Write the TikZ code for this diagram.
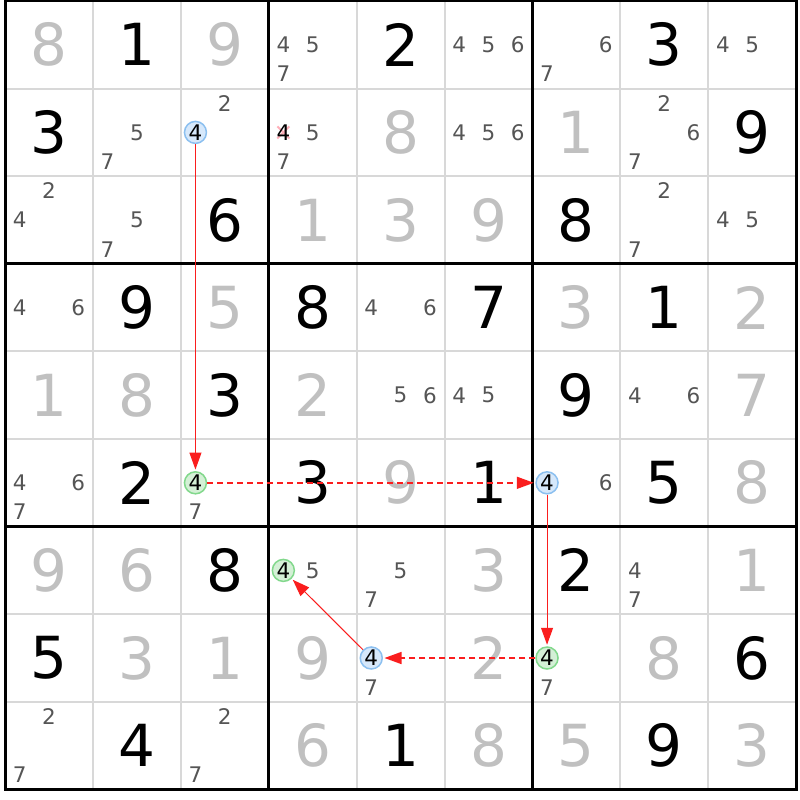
\documentclass[tikz,border=0pt]{standalone}
\usepackage{fontspec}
\setmainfont{DejaVu Sans}
\usetikzlibrary{arrows.meta}
\definecolor{givengray}{RGB}{192,192,192}
\definecolor{candgray}{RGB}{85,85,85}
\definecolor{thingrid}{RGB}{216,216,216}
\definecolor{hlblue}{RGB}{214,232,251}
\definecolor{hlbluedraw}{RGB}{140,192,240}
\definecolor{hlgreen}{RGB}{212,240,214}
\definecolor{hlgreendraw}{RGB}{130,216,140}
\definecolor{linkred}{RGB}{250,30,30}
\definecolor{crosspink}{RGB}{255,175,185}
\newcommand{\cellG}[3]{\node[given] (g#1#2) at ({5+87.9*(#2-0.5)},{1+87.6*(#1-0.5)}) {#3};}
\newcommand{\cellS}[3]{\node[solved] (s#1#2) at ({5+87.9*(#2-0.5)},{1+87.6*(#1-0.5)}) {#3};}
\newcommand{\cellC}[3]{\foreach \dd in {#3} {%
  \pgfmathtruncatemacro{\ck}{mod(\dd-1,3)}%
  \pgfmathtruncatemacro{\cm}{div(\dd-1,3)}%
  \node[cand] (c#1#2\dd) at ({5+87.9*(#2-1)+87.9*(2*\ck+1)/6},{1+87.6*(#1-1)+87.6*(2*\cm+1)/6}) {\dd};}}
\begin{document}
\begin{tikzpicture}[x=1pt,y=-1pt,
  given/.style={inner sep=0pt, text=givengray, font=\fontsize{58}{58}\selectfont},
  solved/.style={inner sep=0pt, text=black, font=\fontsize{58}{58}\selectfont},
  cand/.style={inner sep=0pt, text=candgray, font=\fontsize{21.5}{21.5}\selectfont},
  hlb/.style={circle, draw=hlbluedraw, fill=hlblue, line width=1.5pt, minimum size=22pt, inner sep=0pt, text=black, font=\fontsize{21.5}{21.5}\selectfont},
  hlg/.style={circle, draw=hlgreendraw, fill=hlgreen, line width=1.5pt, minimum size=22pt, inner sep=0pt, text=black, font=\fontsize{21.5}{21.5}\selectfont},
  thingrid/.style={draw=thingrid, line width=2pt},
  thickgrid/.style={draw=black, line width=3pt},
  strong/.style={draw=linkred, line width=1pt, -{Triangle[length=17pt,width=12pt]}, shorten >=1.5pt},
  weak/.style={draw=linkred, line width=1.5pt, dash pattern=on 6pt off 4pt, -{Triangle[length=17pt,width=12pt]}, shorten >=1.5pt}
]
\useasboundingbox (0,0) rectangle (800,800);
\fill[white] (0,0) rectangle (800,800);
% grid
\foreach \i in {1,2,4,5,7,8} {
  \draw[thingrid] ({5+87.9*\i},1) -- ({5+87.9*\i},789.4);
  \draw[thingrid] (5,{1+87.6*\i}) -- (796.1,{1+87.6*\i});
}
\foreach \i in {3,6} {
  \draw[thickgrid] ({5+87.9*\i},1) -- ({5+87.9*\i},789.4);
  \draw[thickgrid] (5,{1+87.6*\i}) -- (796.1,{1+87.6*\i});
}
\draw[thickgrid] (5,1) rectangle (796.1,789.4);
% eliminated candidate cross
\draw[crosspink, line width=2pt] (277.35,126.4) -- (289.35,138.4);
\draw[crosspink, line width=2pt] (277.35,138.4) -- (289.35,126.4);
% row 1
\cellG{1}{1}{8} \cellS{1}{2}{1} \cellG{1}{3}{9} \cellC{1}{4}{4,5,7} \cellS{1}{5}{2}
\cellC{1}{6}{4,5,6} \cellC{1}{7}{6,7} \cellS{1}{8}{3} \cellC{1}{9}{4,5}
% row 2
\cellS{2}{1}{3} \cellC{2}{2}{5,7} \cellC{2}{3}{2} \cellC{2}{4}{5,7} \cellG{2}{5}{8}
\cellC{2}{6}{4,5,6} \cellG{2}{7}{1} \cellC{2}{8}{2,6,7} \cellS{2}{9}{9}
\node[inner sep=0pt, text=black, font=\fontsize{21.5}{21.5}\selectfont] (c244) at (283.35,132.4) {4};
% row 3
\cellC{3}{1}{2,4} \cellC{3}{2}{5,7} \cellS{3}{3}{6} \cellG{3}{4}{1} \cellG{3}{5}{3}
\cellG{3}{6}{9} \cellS{3}{7}{8} \cellC{3}{8}{2,7} \cellC{3}{9}{4,5}
% row 4
\cellC{4}{1}{4,6} \cellS{4}{2}{9} \cellG{4}{3}{5} \cellS{4}{4}{8} \cellC{4}{5}{4,6}
\cellS{4}{6}{7} \cellG{4}{7}{3} \cellS{4}{8}{1} \cellG{4}{9}{2}
% row 5
\cellG{5}{1}{1} \cellG{5}{2}{8} \cellS{5}{3}{3} \cellG{5}{4}{2} \cellC{5}{5}{5,6}
\cellC{5}{6}{4,5} \cellS{5}{7}{9} \cellC{5}{8}{4,6} \cellG{5}{9}{7}
% row 6
\cellC{6}{1}{4,6,7} \cellS{6}{2}{2} \cellC{6}{3}{7} \cellS{6}{4}{3} \cellG{6}{5}{9}
\cellS{6}{6}{1} \cellC{6}{7}{6} \cellS{6}{8}{5} \cellG{6}{9}{8}
% row 7
\cellG{7}{1}{9} \cellG{7}{2}{6} \cellS{7}{3}{8} \cellC{7}{4}{5} \cellC{7}{5}{5,7}
\cellG{7}{6}{3} \cellS{7}{7}{2} \cellC{7}{8}{4,7} \cellG{7}{9}{1}
% row 8
\cellS{8}{1}{5} \cellG{8}{2}{3} \cellG{8}{3}{1} \cellG{8}{4}{9} \cellC{8}{5}{7}
\cellG{8}{6}{2} \cellC{8}{7}{7} \cellG{8}{8}{8} \cellS{8}{9}{6}
% row 9
\cellC{9}{1}{2,7} \cellS{9}{2}{4} \cellC{9}{3}{2,7} \cellG{9}{4}{6} \cellS{9}{5}{1}
\cellG{9}{6}{8} \cellG{9}{7}{5} \cellS{9}{8}{9} \cellG{9}{9}{3}
% highlighted candidates
\node[hlb] (h23) at (195.45,132.4) {4};
\node[hlg] (h63) at (195.45,482.8) {4};
\node[hlb] (h67) at (547.05,482.8) {4};
\node[hlg] (h87) at (547.05,658.0) {4};
\node[hlb] (h85) at (371.25,658.0) {4};
\node[hlg] (h74) at (283.35,570.4) {4};
% chain
\draw[strong] (h23) -- (h63);
\draw[weak] (h63) -- (h67);
\draw[strong] (h67) -- (h87);
\draw[weak] (h87) -- (h85);
\draw[strong] (h85) -- (h74);
\end{tikzpicture}
\end{document}
